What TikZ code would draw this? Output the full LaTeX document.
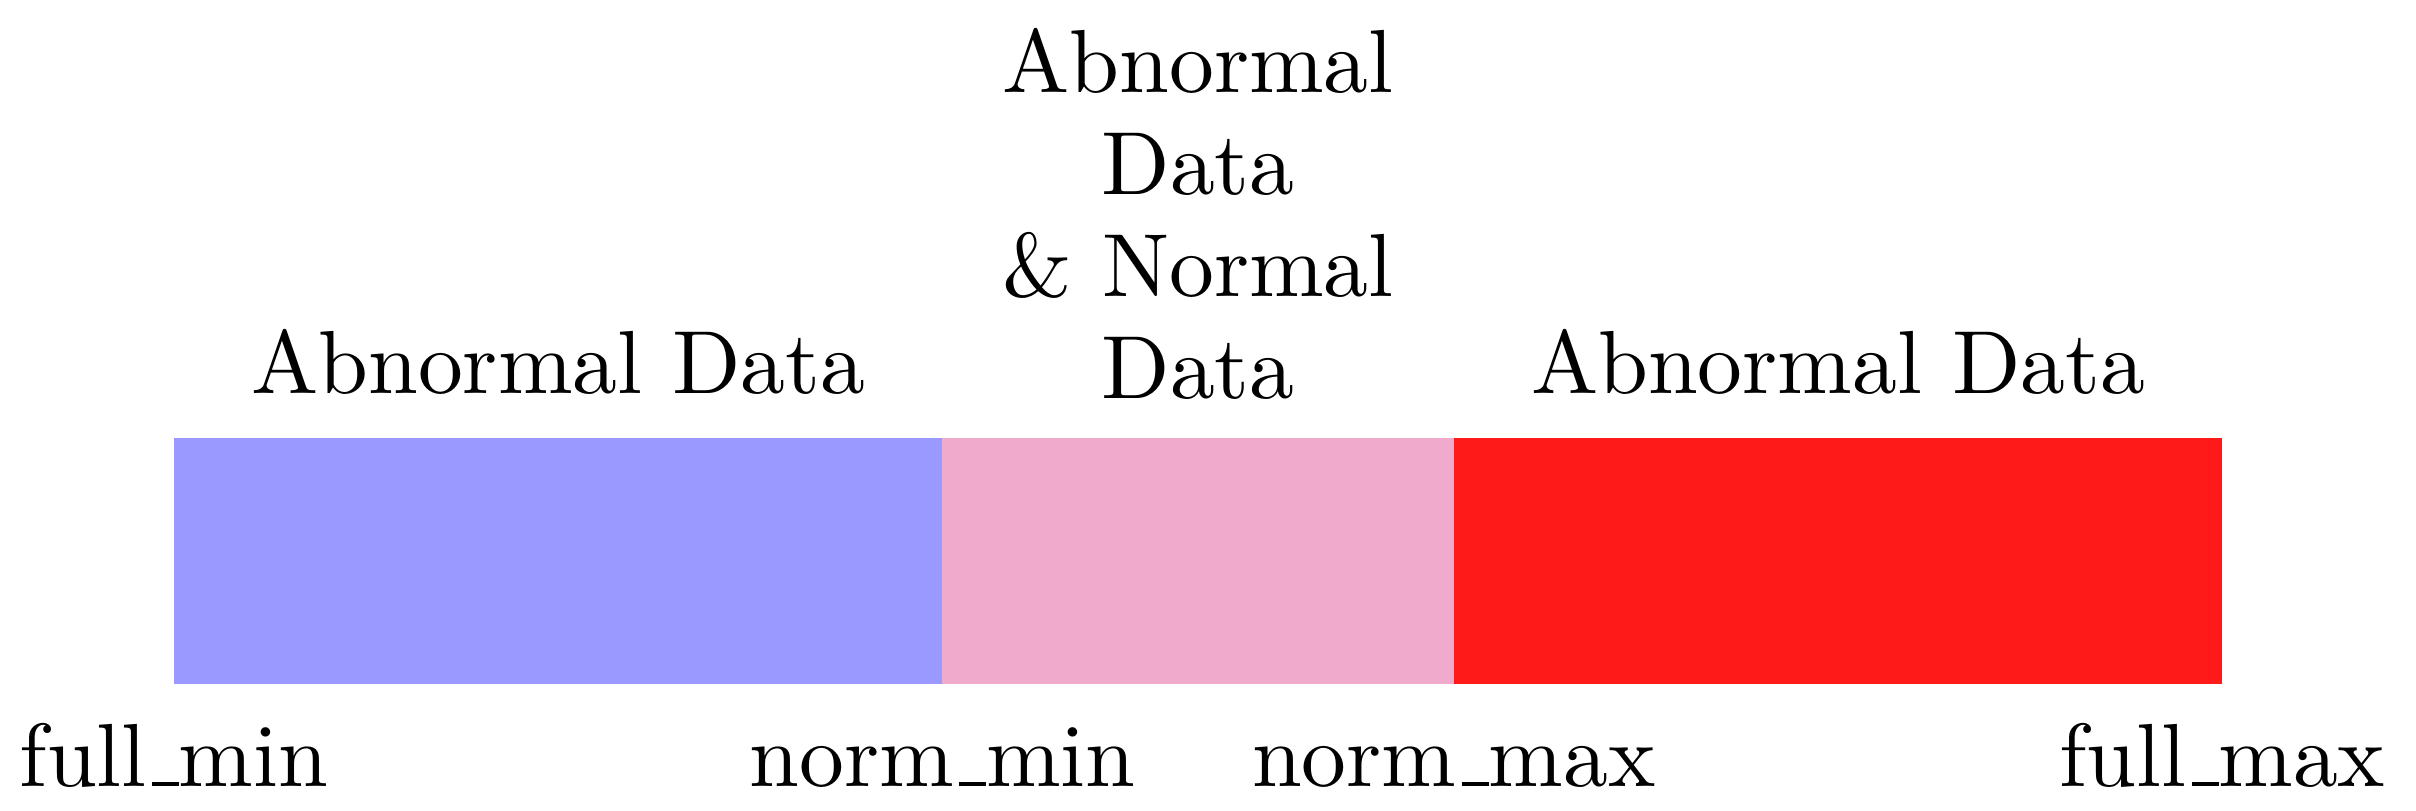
\documentclass[tikz,border=0pt]{standalone}
\usetikzlibrary{positioning}
\definecolor{lowblue}{HTML}{9999FF}
\definecolor{midpink}{HTML}{F0AACC}
\definecolor{highred}{HTML}{FF1A1A}
\newcommand{\uscore}{\leavevmode\kern.06em\vbox{\hrule width.3em}}
\tikzset{bar/.style={rectangle, inner sep=0pt, minimum height=2.45cm, fill=#1, draw=#1},
    regiontext/.style={font=\fontsize{10}{11.4}\selectfont, inner sep=0pt, scale=2.55, transform shape},
    edgetext/.style={font=\fontsize{10}{12}\selectfont, inner sep=0pt, scale=2.55, transform shape}}

\begin{document}
\begin{tikzpicture}
    \useasboundingbox (0,0) rectangle (24.16,8.10);
    \node[bar=lowblue, minimum width=7.67cm, anchor=south west] (lowpart) at (1.74,1.26) {};
    \node[bar=midpink, minimum width=5.10cm, right=0pt of lowpart] (midpart) {};
    \node[bar=highred, minimum width=7.67cm, right=0pt of midpart] (highpart) {};
    \node[regiontext, above=0.44cm of lowpart, anchor=base] (lowtext) {Abnormal Data};
    \node[regiontext, above=0.44cm of highpart, anchor=base] (hightext) {Abnormal Data};
    \node[regiontext, above=0.37cm of midpart, align=center, text depth=0pt] (midtext) {Abnormal\\Data\\\& Normal\\Data};
    \node[edgetext, below=1.02cm of lowpart.south west, anchor=base] (fullmin) {full\uscore min};
    \node[edgetext, below=1.02cm of lowpart.south east, anchor=base] (normmin) {norm\uscore min};
    \node[edgetext, below=1.02cm of highpart.south west, anchor=base] (normmax) {norm\uscore max};
    \node[edgetext, below=1.02cm of highpart.south east, anchor=base] (fullmax) {full\uscore max};
\end{tikzpicture}
\end{document}
